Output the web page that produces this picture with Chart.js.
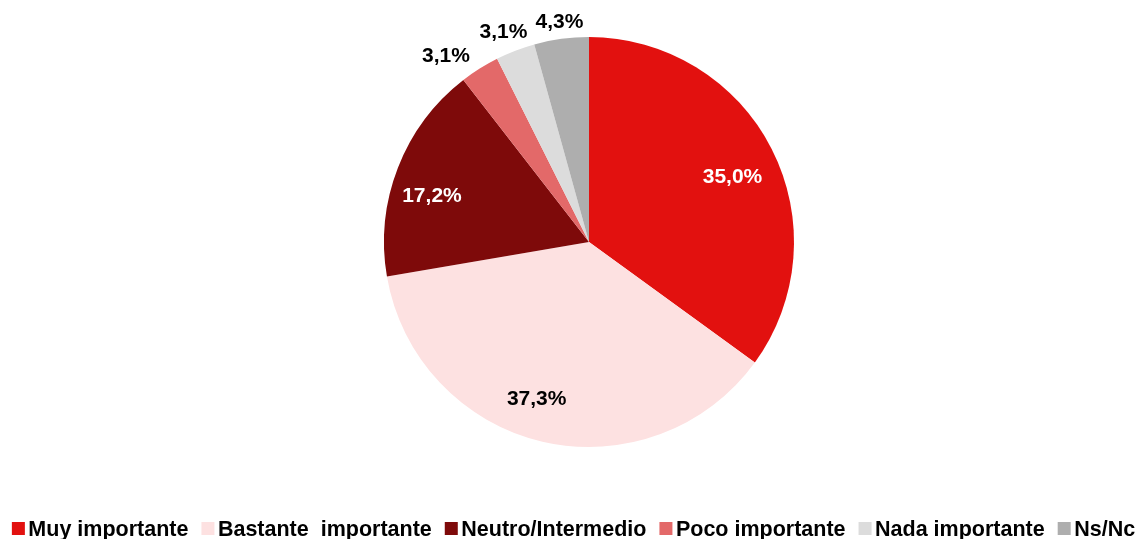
<!DOCTYPE html>
<html>
<head>
<meta charset="utf-8">
<script src="https://cdn.jsdelivr.net/npm/chart.js"></script>
<style>
  html, body { margin: 0; padding: 0; background: #fff; }
  #wrap { width: 1143px; height: 539px; }
</style>
</head>
<body>
<div id="wrap"><canvas id="chart_pie"></canvas></div>
<script>
const categories = ['Muy importante', 'Bastante  importante', 'Neutro/Intermedio', 'Poco importante', 'Nada importante', 'Ns/Nc'];
const values = [35.0, 37.3, 17.2, 3.1, 3.1, 4.3];
const valueLabels = ['35,0%', '37,3%', '17,2%', '3,1%', '3,1%', '4,3%'];
const colors = ['#E2110F', '#FDE1E1', '#7E0A0A', '#E36969', '#DCDCDC', '#AEAEAE'];
const labelColors = ['#fff', '#000', '#fff', '#000', '#000', '#000'];
const outside = [false, false, false, true, true, true];

const LABEL_SIZE = 21;
const LEGEND_SIZE = 21.5;
const fontOf = size => 'bold ' + size + 'px "Liberation Sans", Arial, sans-serif';

// slice labels, inside or just outside the arc
const sliceLabels = {
  id: 'sliceLabels',
  afterDatasetsDraw(chart, args, opts) {
    const ctx = chart.ctx;
    const arcs = chart.getDatasetMeta(0).data;
    const nudge = opts.nudge || [];
    ctx.save();
    ctx.font = fontOf(LABEL_SIZE);
    ctx.textAlign = 'center';
    ctx.textBaseline = 'alphabetic';
    const capHalf = LABEL_SIZE * 0.716 / 2;
    arcs.forEach((arc, i) => {
      const p = arc.getProps(['x', 'y', 'startAngle', 'endAngle', 'outerRadius'], true);
      const mid = (p.startAngle + p.endAngle) / 2;
      const r = outside[i] ? p.outerRadius + 22 : p.outerRadius * 0.78;
      const [dx, dy] = nudge[i] || [0, 0];
      ctx.fillStyle = labelColors[i];
      ctx.fillText(valueLabels[i], p.x + Math.cos(mid) * r + dx, p.y + Math.sin(mid) * r + dy + capHalf);
    });
    ctx.restore();
  }
};

// legend drawn by hand so box/text spacing matches the original
const bottomLegend = {
  id: 'bottomLegend',
  afterDraw(chart) {
    const ctx = chart.ctx;
    ctx.save();
    ctx.font = fontOf(LEGEND_SIZE);
    ctx.textBaseline = 'alphabetic';
    const box = 13, textGap = 3.5, itemGap = 13;
    const widths = categories.map(c => ctx.measureText(c).width);
    const total = widths.reduce((a, w) => a + box + textGap + w, 0) + itemGap * (categories.length - 1);
    let x = 573.5 - total / 2;
    const y = 528.5;
    categories.forEach((c, i) => {
      ctx.fillStyle = colors[i];
      ctx.fillRect(x, y - box / 2, box, box);
      ctx.fillStyle = '#000';
      ctx.fillText(c, x + box + textGap, y + LEGEND_SIZE * 0.716 / 2);
      x += box + textGap + widths[i] + itemGap;
    });
    ctx.restore();
  }
};

new Chart('chart_pie', {
  type: 'pie',
  data: {
    labels: categories,
    datasets: [{
      data: values,
      backgroundColor: colors,
      borderWidth: 0
    }]
  },
  options: {
    responsive: true,
    maintainAspectRatio: false,
    animation: false,
    layout: { padding: { top: 37, bottom: 92, left: 35, right: 0 } },
    plugins: {
      legend: { display: false },
      tooltip: { enabled: false },
      sliceLabels: {
        nudge: [[1, 6], [-16, 0], [-8, 10], [-22, 5], [-4, 0], [1, 3]]
      }
    }
  },
  plugins: [sliceLabels, bottomLegend]
});
</script>
</body>
</html>
